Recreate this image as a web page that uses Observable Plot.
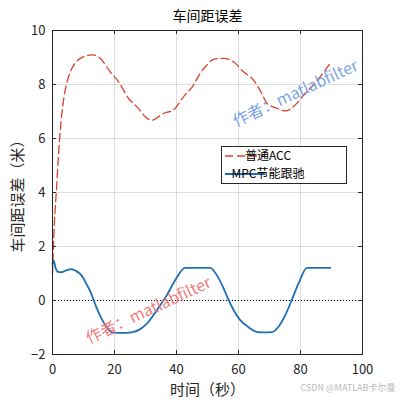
<!DOCTYPE html>
<html>
<head>
<meta charset="utf-8">
<script src="https://cdn.jsdelivr.net/npm/d3@7"></script>
<script src="https://cdn.jsdelivr.net/npm/@observablehq/plot@0.6"></script>
<style>
  html, body { margin: 0; padding: 0; background: #fff; }
</style>
</head>
<body>
<div id="chart"></div>
<script>
// ---- data ----
const accX = [0, 0.55, 1.2, 1.9, 2.7, 3.9, 5.2, 7.3, 10.5, 13, 15.4, 18.6, 21.3, 24.5, 27.2, 30.5, 32, 35.8, 39, 42.3, 45.5, 47.6, 49.8, 51.9, 55.2, 58.4, 61.6, 64.8, 67.5, 69.2, 72.4, 75, 78.8, 81, 83.1, 86.4, 89.6];
const accY = [1.0, 2.73, 3.97, 5.33, 6.56, 7.67, 8.29, 8.79, 9.05, 9.1, 8.97, 8.47, 8.1, 7.49, 7.18, 6.75, 6.68, 6.93, 7.06, 7.55, 7.98, 8.41, 8.72, 8.93, 8.97, 8.84, 8.47, 8.17, 7.67, 7.3, 7.12, 7.02, 7.3, 7.61, 7.86, 8.29, 8.79];

const mpcX = [0, 0.4, 1.0, 2.0, 3.0, 4.5, 6.0, 7.5, 9.3, 11.1, 12.2, 14.3, 16.4, 18.6, 19.5, 22, 25.6, 28.3, 30.5, 33.7, 36.9, 39.6, 42.8, 46, 50.9, 53, 55.2, 56.8, 58.4, 60.5, 62.7, 65.9, 68, 70.8, 72.9, 75.1, 77.2, 79.4, 82.1, 86, 89.6];
const mpcY = [1.35, 1.48, 1.2, 1.05, 1.05, 1.12, 1.16, 1.1, 0.94, 0.58, 0.33, -0.29, -0.79, -1.13, -1.19, -1.2, -1.18, -1.06, -0.85, -0.35, 0.2, 0.76, 1.21, 1.21, 1.21, 0.94, 0.45, 0.02, -0.35, -0.72, -0.94, -1.16, -1.18, -1.17, -0.97, -0.54, 0.02, 0.64, 1.21, 1.21, 1.21];

const xTicks = [0, 20, 40, 60, 80, 100];
const yTicks = [-2, 0, 2, 4, 6, 8, 10];
const seriesNames = ["普通ACC", "MPC节能跟驰"];
const titleText = "车间距误差";
const xLabel = "时间（秒）";
const yLabel = "车间距误差（米）";
const watermark = "作者：matlabfilter";
const credit = "CSDN @MATLAB卡尔曼";

const acc = accX.map((x, i) => ({x, y: accY[i]}));
const mpc = mpcX.map((x, i) => ({x, y: mpcY[i]}));

const W = 400, H = 400;
const mL = 52, mR = 38, mT = 30, mB = 46;
const pw = W - mL - mR, ph = H - mT - mB;
const tickLen = 4;
const axisColor = "#262626";
const red = "#d9412b";
const blue = "#1f6fb4";
const font = "'Noto Sans CJK SC', 'Noto Sans', sans-serif";

const txt = (label, opts) => Plot.text([label], {text: d => d, textAnchor: "middle", lineAnchor: "middle", ...opts});

const svg = Plot.plot({
  width: W, height: H,
  marginLeft: mL, marginRight: mR, marginTop: mT, marginBottom: mB,
  style: {fontFamily: font, fontSize: "13px", background: "#fff", color: axisColor},
  x: {domain: [0, 100]},
  y: {domain: [-2, 10]},
  marks: [
    Plot.gridX(xTicks, {stroke: "#000", strokeOpacity: 0.13}),
    Plot.gridY(yTicks, {stroke: "#000", strokeOpacity: 0.13}),
    Plot.ruleY([0], {x1: 0, x2: 100, stroke: "#000", strokeWidth: 1, strokeDasharray: "1,2"}),
    Plot.line(acc, {x: "x", y: "y", stroke: red, strokeWidth: 1.3, strokeDasharray: "8,4", curve: "monotone-x"}),
    Plot.line(mpc, {x: "x", y: "y", stroke: blue, strokeWidth: 1.8, curve: "monotone-x"}),
    // inward ticks
    Plot.tickY(yTicks, {y: d => d, insetRight: pw - tickLen, stroke: axisColor}),
    Plot.tickY(yTicks, {y: d => d, insetLeft: pw - tickLen, stroke: axisColor}),
    Plot.tickX(xTicks, {x: d => d, insetTop: ph - tickLen, stroke: axisColor}),
    Plot.tickX(xTicks, {x: d => d, insetBottom: ph - tickLen, stroke: axisColor}),
    Plot.axisX({ticks: xTicks, tickSize: 0, tickPadding: 10, label: null, fontSize: 13}),
    Plot.axisY({ticks: yTicks, tickSize: 0, tickPadding: 7, label: null, fontSize: 13}),
    Plot.frame({stroke: axisColor, strokeWidth: 1}),
    // titles
    txt(titleText, {frameAnchor: "top", dy: -14, fontSize: 14, fill: "#000"}),
    txt(xLabel, {frameAnchor: "bottom", dy: 36, fontSize: 15, fill: axisColor}),
    txt(yLabel, {frameAnchor: "left", dx: -34, rotate: -90, fontSize: 15, fill: axisColor}),
    // watermarks
    txt(watermark, {frameAnchor: "top-left", dx: 243, dy: 63, rotate: -25, fontSize: 16, fill: "#6a98e6", fillOpacity: 0.9}),
    txt(watermark, {frameAnchor: "top-left", dx: 96, dy: 280, rotate: -25, fontSize: 16, fill: "#f06a6a", fillOpacity: 0.9}),
    Plot.text([credit], {text: d => d, frameAnchor: "bottom-right", dx: 33, dy: 34, textAnchor: "end", lineAnchor: "middle", fontSize: 9, fill: "#bbbbbb"})
  ]
});

// legend
const lg = d3.select(svg).append("g").attr("font-family", font).attr("font-size", 12);
lg.append("rect").attr("x", 221.5).attr("y", 146.5).attr("width", 125).attr("height", 37)
  .attr("fill", "#fff").attr("stroke", axisColor).attr("stroke-width", 1);
const rows = [
  {name: seriesNames[0], color: red, dash: "8,4", w: 1.3, y: 156},
  {name: seriesNames[1], color: blue, dash: null, w: 1.8, y: 174}
];
rows.forEach(r => {
  lg.append("line").attr("x1", 225).attr("x2", 265).attr("y1", r.y).attr("y2", r.y)
    .attr("stroke", r.color).attr("stroke-width", r.w).attr("stroke-dasharray", r.dash);
  lg.append("text").attr("x", 268).attr("y", r.y).attr("dy", "0.35em").attr("fill", "#000").text(r.name);
});

document.getElementById("chart").appendChild(svg);
</script>
</body>
</html>
